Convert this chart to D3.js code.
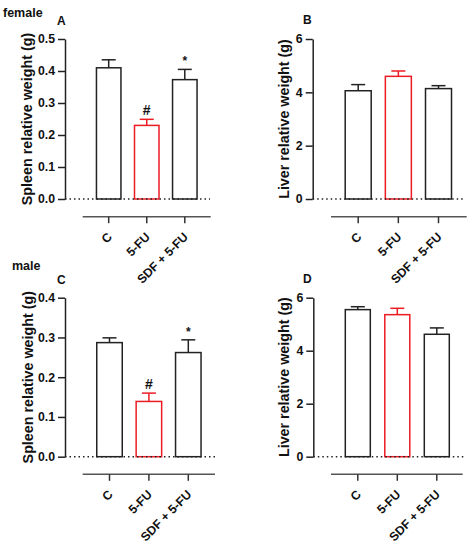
<!DOCTYPE html>
<html>
<head>
<meta charset="utf-8">
<script src="https://cdn.jsdelivr.net/npm/d3@7"></script>
<style>
  body { margin: 0; background: #fff; }
  svg { display: block; font-family: "Liberation Sans", Arial, sans-serif; font-weight: bold; }
</style>
</head>
<body>
<svg id="chart" width="471" height="550"></svg>
<script>
"use strict"

const GROUPS = ["C", "5-FU", "SDF + 5-FU"];
const GROUP_COLORS = ["#222222", "#ec1c24", "#222222"];

// female
const SPLEEN_F = [0.41, 0.23, 0.373];
const SPLEEN_F_ERR = [0.025, 0.019, 0.032];
const LIVER_F = [4.06, 4.6, 4.14];
const LIVER_F_ERR = [0.23, 0.2, 0.11];
// male
const SPLEEN_M = [0.287, 0.139, 0.262];
const SPLEEN_M_ERR = [0.012, 0.021, 0.032];
const LIVER_M = [5.55, 5.36, 4.62];
const LIVER_M_ERR = [0.11, 0.24, 0.24];

const SPLEEN_MARKS = ["", "#", "*"];
const LIVER_MARKS = ["", "", ""];

const SPLEEN_F_TICKS = [0, 0.1, 0.2, 0.3, 0.4, 0.5];
const SPLEEN_M_TICKS = [0, 0.1, 0.2, 0.3, 0.4];
const LIVER_TICKS = [0, 2, 4, 6];

const SPLEEN_TITLE = "Spleen relative weight (g)";
const LIVER_TITLE = "Liver relative weight (g)";

// layout only, one per panel
const PANELS = [
    { letter: "A", values: SPLEEN_F, errs: SPLEEN_F_ERR, marks: SPLEEN_MARKS, ticks: SPLEEN_F_TICKS,
      fmt: ".1f", title: SPLEEN_TITLE,
      axisX: 65, top: 39, bottom: 199, cx: [108.7, 184.8], barW: 24.5, dotEnd: 210,
      line: [82.7, 210.7, 216.7], titleX: 26.5, letterPos: [57, 25] },
    { letter: "B", values: LIVER_F, errs: LIVER_F_ERR, marks: LIVER_MARKS, ticks: LIVER_TICKS,
      fmt: "d", title: LIVER_TITLE,
      axisX: 312.7, top: 39, bottom: 199, cx: [358.2, 438.5], barW: 26, dotEnd: 464,
      line: [331, 466.7, 216.7], titleX: 283.5, letterPos: [303, 24] },
    { letter: "C", values: SPLEEN_M, errs: SPLEEN_M_ERR, marks: SPLEEN_MARKS, ticks: SPLEEN_M_TICKS,
      fmt: ".1f", title: SPLEEN_TITLE,
      axisX: 65, top: 297.7, bottom: 456.7, cx: [109.5, 188.3], barW: 25.5, dotEnd: 215,
      line: [82.7, 215, 474.3], titleX: 27.5, letterPos: [57, 284] },
    { letter: "D", values: LIVER_M, errs: LIVER_M_ERR, marks: LIVER_MARKS, ticks: LIVER_TICKS,
      fmt: "d", title: LIVER_TITLE,
      axisX: 313.3, top: 297.7, bottom: 456.7, cx: [357.8, 436.8], barW: 25, dotEnd: 464,
      line: [331, 462.7, 474.3], titleX: 284, letterPos: [303, 282.5] }
];

const svg = d3.select("#chart");

svg.append("text").text("female").attr("x", 3).attr("y", 16.5).attr("font-size", 12.5).attr("fill", "#111");
svg.append("text").text("male").attr("x", 12).attr("y", 269.5).attr("font-size", 12.5).attr("fill", "#111");

function drawPanel(p) {
    const g = svg.append("g");
    const ticks = p.ticks;
    const yscale = d3.scaleLinear([0, ticks[ticks.length - 1]], [p.bottom, p.top]);
    const xscale = d3.scalePoint(GROUPS, p.cx);

    // y axis
    const yaxis = g.append("g")
        .attr("transform", `translate(${p.axisX},0)`)
        .call(d3.axisLeft(yscale).tickValues(ticks).tickFormat(d3.format(p.fmt))
            .tickSize(7).tickSizeOuter(0).tickPadding(3));
    yaxis.select(".domain").attr("stroke", "#222").attr("stroke-width", 1.5);
    yaxis.selectAll(".tick line").attr("stroke", "#222").attr("stroke-width", 1.5);
    yaxis.selectAll(".tick text").attr("font-size", 12.3).attr("fill", "#111");
    yaxis.attr("font-family", null).attr("font-size", null);

    // bars
    const bw = p.barW;
    g.selectAll(".bar").data(p.values).join("rect")
        .attr("x", (d, i) => xscale(GROUPS[i]) - bw / 2)
        .attr("y", d => yscale(d))
        .attr("width", bw)
        .attr("height", d => yscale(0) - yscale(d))
        .attr("fill", "#fff")
        .attr("stroke", (d, i) => GROUP_COLORS[i])
        .attr("stroke-width", 1.5);

    // error bars
    p.values.forEach((v, i) => {
        const x = xscale(GROUPS[i]);
        const yt = yscale(v + p.errs[i]);
        g.append("line").attr("x1", x).attr("x2", x).attr("y1", yscale(v)).attr("y2", yt)
            .attr("stroke", GROUP_COLORS[i]).attr("stroke-width", 1.5);
        g.append("line").attr("x1", x - 7).attr("x2", x + 7).attr("y1", yt).attr("y2", yt)
            .attr("stroke", GROUP_COLORS[i]).attr("stroke-width", 1.5);
        if (p.marks[i]) {
            g.append("text").text(p.marks[i])
                .attr("x", x).attr("y", yt - 4)
                .attr("text-anchor", "middle")
                .attr("font-size", p.marks[i] == "#" ? 14 : 12)
                .attr("fill", "#111");
        }
    });

    // dotted baseline
    g.append("line").attr("x1", p.axisX).attr("x2", p.dotEnd)
        .attr("y1", yscale(0)).attr("y2", yscale(0))
        .attr("stroke", "#222").attr("stroke-width", 1.5)
        .attr("stroke-dasharray", "1.5,3");

    // separate category axis below
    g.append("line").attr("x1", p.line[0]).attr("x2", p.line[1])
        .attr("y1", p.line[2]).attr("y2", p.line[2])
        .attr("stroke", "#555").attr("stroke-width", 1.5);
    GROUPS.forEach(c => {
        const x = xscale(c);
        g.append("line").attr("x1", x).attr("x2", x)
            .attr("y1", p.line[2]).attr("y2", p.line[2] + 6.5)
            .attr("stroke", "#333").attr("stroke-width", 1.5);
        g.append("text").text(c)
            .attr("transform", `translate(${x + 4},${p.line[2] + 21}) rotate(-45)`)
            .attr("text-anchor", "end")
            .attr("font-size", 12.3)
            .attr("fill", "#111");
    });

    // y title
    g.append("text").text(p.title)
        .attr("transform", `translate(${p.titleX},${(p.top + p.bottom) / 2}) rotate(-90)`)
        .attr("text-anchor", "middle")
        .attr("dy", "0.36em")
        .attr("font-size", 14.3)
        .attr("fill", "#111");

    // panel letter
    g.append("text").text(p.letter)
        .attr("x", p.letterPos[0]).attr("y", p.letterPos[1])
        .attr("font-size", 12)
        .attr("fill", "#111");
}

PANELS.forEach(drawPanel);
</script>
</body>
</html>
